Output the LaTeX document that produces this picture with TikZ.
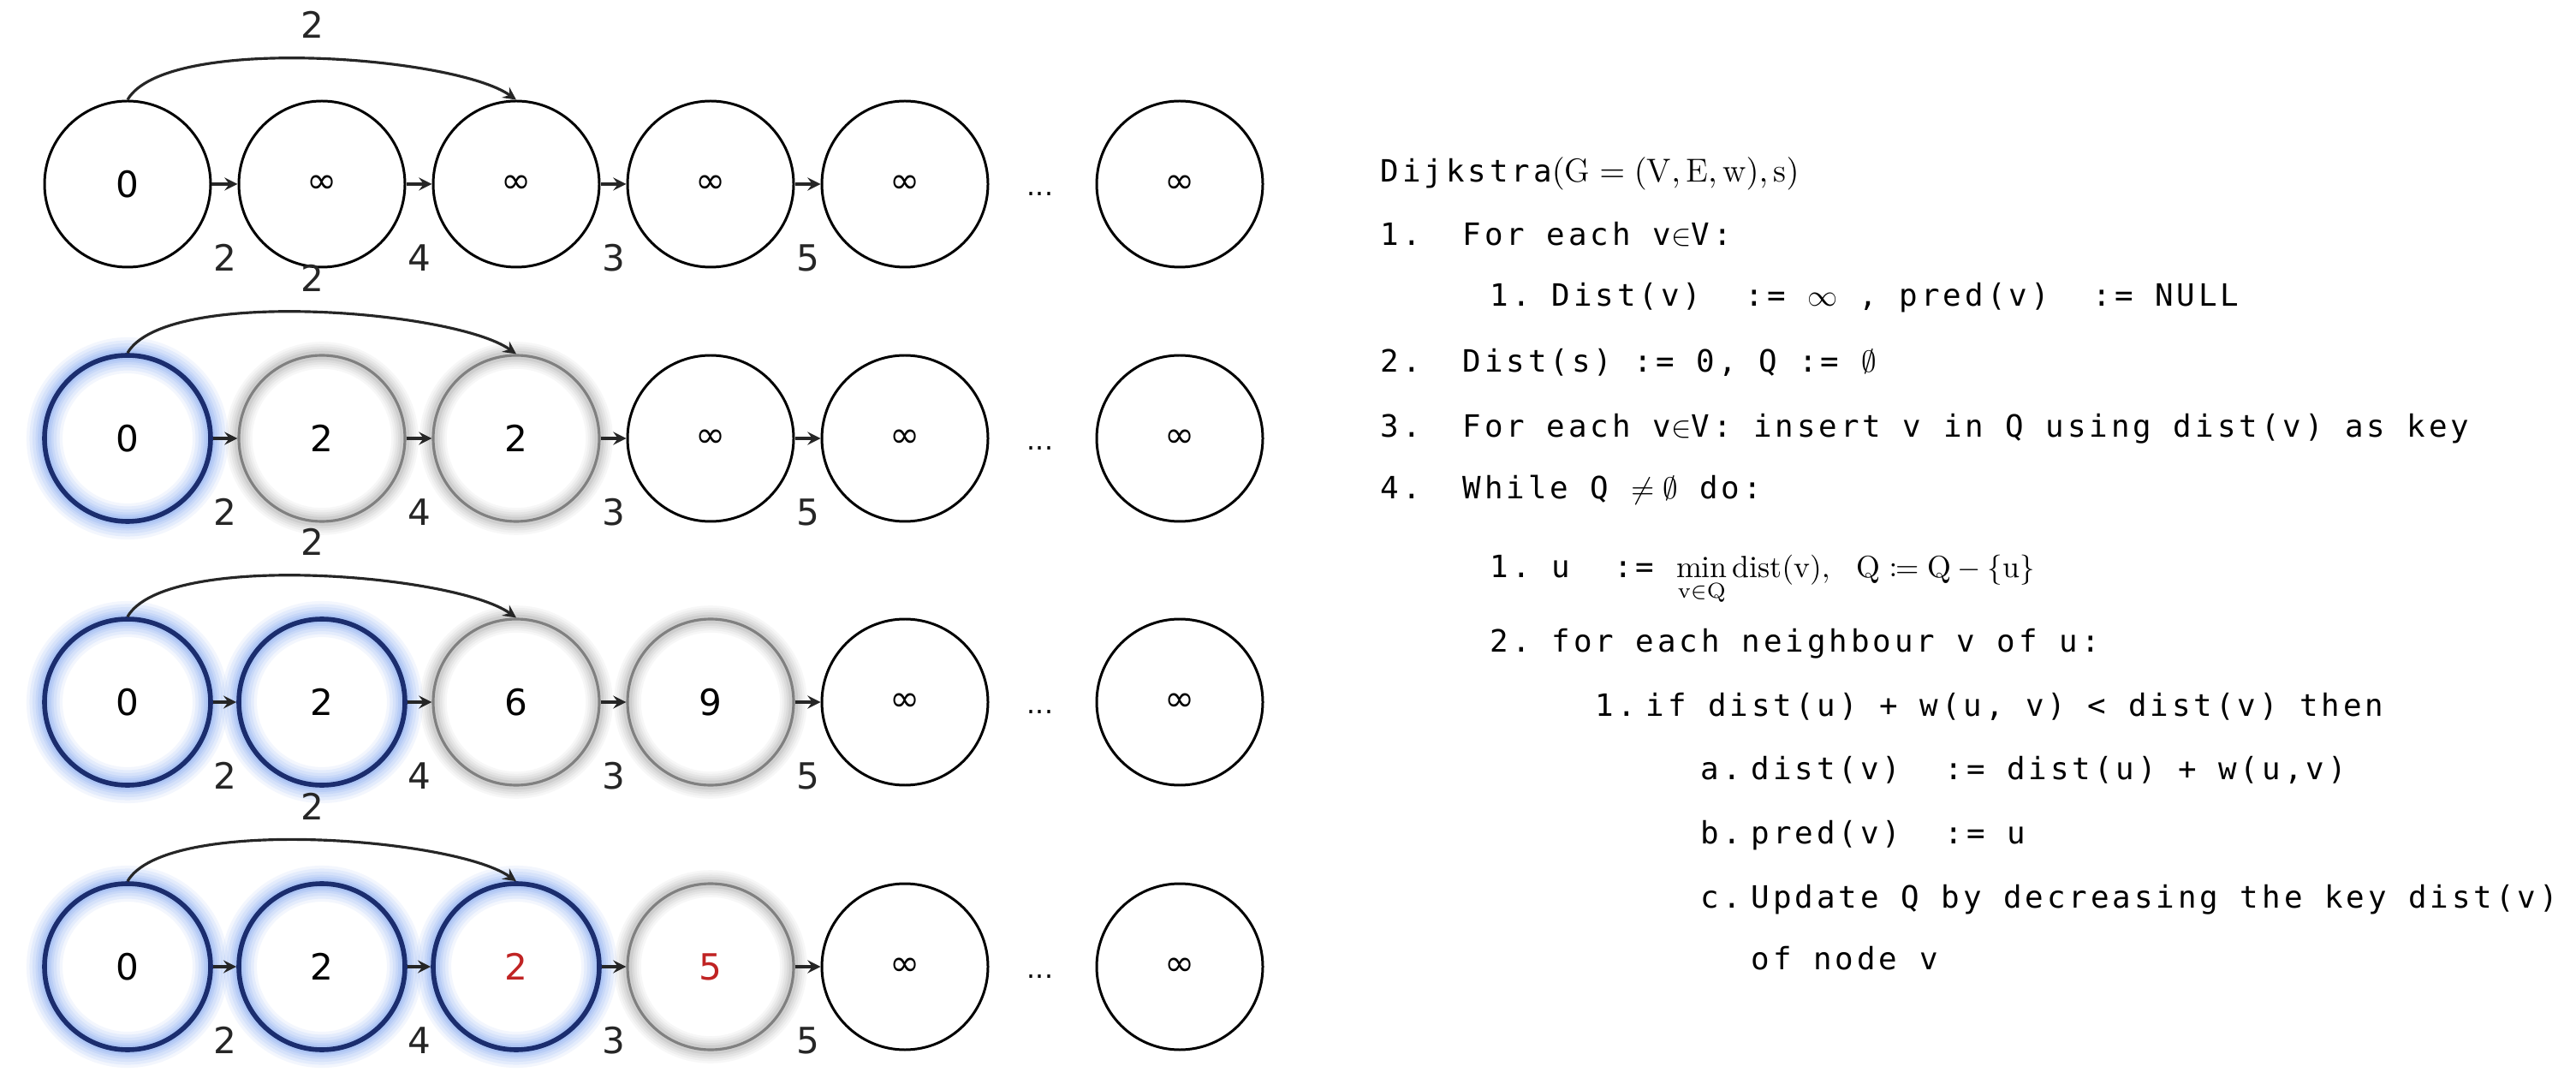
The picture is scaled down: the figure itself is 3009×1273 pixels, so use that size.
\documentclass[tikz,border=0pt]{standalone}
\usepackage{mathtools}
\usepackage{fontspec}
\newfontfamily\numfont{DejaVu Sans}
\newfontfamily\codefont[LetterSpace=11]{DejaVu Sans Mono}
\definecolor{navy}{RGB}{27,45,110}
\definecolor{glowblue}{RGB}{100,145,235}
\definecolor{glowgray}{RGB}{100,100,100}
\definecolor{ringgray}{RGB}{128,128,128}
\definecolor{newred}{RGB}{192,35,35}
\newcommand{\lnum}[2]{\makebox[#1][l]{#2}}

\begin{document}
\begin{tikzpicture}[
    x=0.1mm, y=0.1mm,
    vertex/.style={circle, draw=black, line width=0.85pt, minimum size=19.4mm, inner sep=0pt, font=\numfont\fontsize{12}{15}\selectfont},
    done/.style={vertex, draw=navy, line width=1.6pt,
        preaction={draw=glowblue, line width=12pt, opacity=0.08},
        preaction={draw=glowblue, line width=10pt, opacity=0.1},
        preaction={draw=glowblue, line width=8pt, opacity=0.11},
        preaction={draw=glowblue, line width=6pt, opacity=0.12},
        preaction={draw=glowblue, line width=4.5pt, opacity=0.14},
        preaction={draw=glowblue, line width=3pt, opacity=0.16}},
    tent/.style={vertex, draw=ringgray, line width=0.9pt,
        preaction={draw=glowgray, line width=9pt, opacity=0.05},
        preaction={draw=glowgray, line width=7.5pt, opacity=0.06},
        preaction={draw=glowgray, line width=6pt, opacity=0.07},
        preaction={draw=glowgray, line width=4.5pt, opacity=0.08},
        preaction={draw=glowgray, line width=3pt, opacity=0.1}},
    arrow/.style={->, >=stealth, line width=0.9pt, black!85},
    wlabel/.style={font=\numfont\fontsize{12}{15}\selectfont, yshift=-8.6mm},
    alabel/.style={font=\numfont\fontsize{12}{15}\selectfont, yshift=4mm},
    dots/.style={font=\numfont\fontsize{9}{10}\selectfont},
    code/.style={anchor=base west, inner sep=0pt, font=\codefont\fontsize{10.2}{12}\selectfont}
]
\useasboundingbox (0,0) rectangle (3009,-1273);

% Row 1: initial distances
\node[vertex] (a1) at (149,-215) {0};
\node[vertex] (a2) at (376,-215) {∞};
\node[vertex] (a3) at (603,-215) {∞};
\node[vertex] (a4) at (830,-215) {∞};
\node[vertex] (a5) at (1057,-215) {∞};
\node[dots] (adots) at (1215,-227) {...};
\node[vertex] (a6) at (1378,-215) {∞};

% Row 2: after visiting the source
\node[done] (b1) at (149,-512) {0};
\node[tent] (b2) at (376,-512) {2};
\node[tent] (b3) at (603,-512) {2};
\node[vertex] (b4) at (830,-512) {∞};
\node[vertex] (b5) at (1057,-512) {∞};
\node[dots] (bdots) at (1215,-524) {...};
\node[vertex] (b6) at (1378,-512) {∞};

% Row 3
\node[done] (c1) at (149,-820) {0};
\node[done] (c2) at (376,-820) {2};
\node[tent] (c3) at (603,-820) {6};
\node[tent] (c4) at (830,-820) {9};
\node[vertex] (c5) at (1057,-820) {∞};
\node[dots] (cdots) at (1215,-832) {...};
\node[vertex] (c6) at (1378,-820) {∞};

% Row 4
\node[done] (d1) at (149,-1129) {0};
\node[done] (d2) at (376,-1129) {2};
\node[done, text=newred] (d3) at (603,-1129) {2};
\node[tent, text=newred] (d4) at (830,-1129) {5};
\node[vertex] (d5) at (1057,-1129) {∞};
\node[dots] (ddots) at (1215,-1141) {...};
\node[vertex] (d6) at (1378,-1129) {∞};

% Edges with weights
\draw[arrow] (a1) -- node[wlabel] {2} (a2);
\draw[arrow] (a2) -- node[wlabel] {4} (a3);
\draw[arrow] (a3) -- node[wlabel] {3} (a4);
\draw[arrow] (a4) -- node[wlabel] {5} (a5);
\draw[arrow] (a1.north) to[out=60, in=145, looseness=0.5] node[alabel] {2} (a3.north);

\draw[arrow] (b1) -- node[wlabel] {2} (b2);
\draw[arrow] (b2) -- node[wlabel] {4} (b3);
\draw[arrow] (b3) -- node[wlabel] {3} (b4);
\draw[arrow] (b4) -- node[wlabel] {5} (b5);
\draw[arrow] (b1.north) to[out=60, in=145, looseness=0.5] node[alabel] {2} (b3.north);

\draw[arrow] (c1) -- node[wlabel] {2} (c2);
\draw[arrow] (c2) -- node[wlabel] {4} (c3);
\draw[arrow] (c3) -- node[wlabel] {3} (c4);
\draw[arrow] (c4) -- node[wlabel] {5} (c5);
\draw[arrow] (c1.north) to[out=60, in=145, looseness=0.5] node[alabel] {2} (c3.north);

\draw[arrow] (d1) -- node[wlabel] {2} (d2);
\draw[arrow] (d2) -- node[wlabel] {4} (d3);
\draw[arrow] (d3) -- node[wlabel] {3} (d4);
\draw[arrow] (d4) -- node[wlabel] {5} (d5);
\draw[arrow] (d1.north) to[out=60, in=145, looseness=0.5] node[alabel] {2} (d3.north);

% Pseudocode
\node[code] (title) at (1612,-213) {Dijkstra{\fontsize{11}{12}\selectfont$(\mathrm{G}=(\mathrm{V},\mathrm{E},\mathrm{w}),\mathrm{s})$}};
\node[code] (step1) at (1612,-287) {\lnum{9.6mm}{1.}For each v$\in$V:};
\node[code] (step1a) at (1740,-358) {\lnum{7.2mm}{1.}Dist(v)\ \ := $\infty$ , pred(v)\ \ := NULL};
\node[code] (step2) at (1612,-435) {\lnum{9.6mm}{2.}Dist(s) := 0, Q := $\emptyset$};
\node[code] (step3) at (1612,-511) {\lnum{9.6mm}{3.}For each v$\in$V: insert v in Q using dist(v) as key};
\node[code] (step4) at (1612,-583) {\lnum{9.6mm}{4.}While Q $\neq\emptyset$ do:};
\node[code] (step4a) at (1740,-675) {\lnum{7.2mm}{1.}u\ \ := $\displaystyle\min_{\mathrm{v}\in\mathrm{Q}}\mathrm{dist}(\mathrm{v}),\ \mathrm{Q}\coloneqq\mathrm{Q}-\{\mathrm{u}\}$};
\node[code] (step4b) at (1740,-762) {\lnum{7.2mm}{2.}for each neighbour v of u:};
\node[code] (step4b1) at (1863,-837) {\lnum{5.9mm}{1.}if dist(u) + w(u, v) < dist(v) then};
\node[code] (stepa) at (1986,-910) {\lnum{5.9mm}{a.}dist(v)\ \ := dist(u) + w(u,v)};
\node[code] (stepb) at (1986,-985) {\lnum{5.9mm}{b.}pred(v)\ \ := u};
\node[code] (stepc) at (1986,-1060) {\lnum{5.9mm}{c.}Update Q by decreasing the key dist(v)};
\node[code] (stepc2) at (2045,-1132) {of node v};

\end{tikzpicture}
\end{document}
